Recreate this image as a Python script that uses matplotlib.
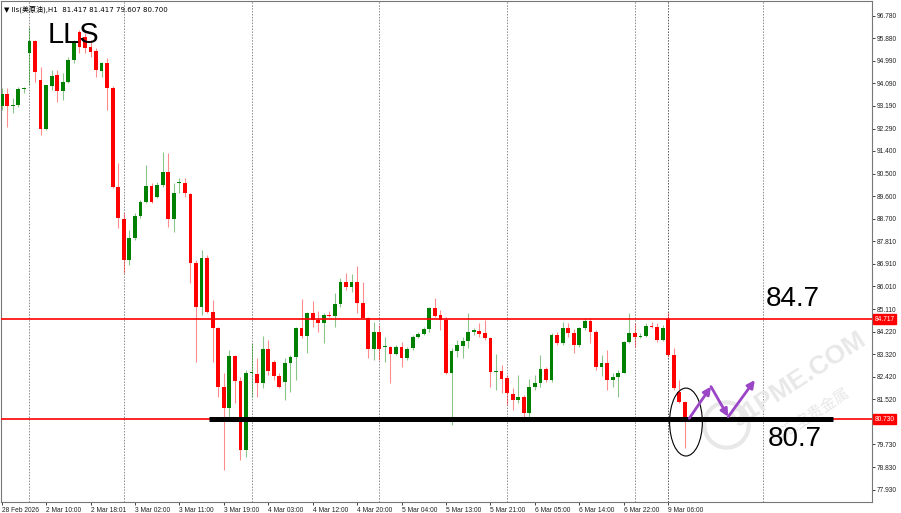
import matplotlib
matplotlib.use("Agg")
import matplotlib.pyplot as plt
from matplotlib.patches import Ellipse
import numpy as np

# hourly candles
opens = [93.20, 93.66, 93.19, 93.23, 93.86, 95.28, 95.78, 94.22, 92.27, 93.99,
         94.42, 93.78, 94.14, 95.01, 96.13, 95.94, 95.54, 95.37, 94.58, 94.90,
         93.90, 89.98, 88.69, 87.06, 87.95, 88.81, 89.37, 90.00, 89.57, 90.04,
         90.57, 88.69, 90.12, 90.14, 89.69, 86.94, 85.21, 87.15, 85.01, 84.36,
         82.01, 81.18, 83.25, 82.26, 79.51, 82.57, 82.53, 82.17, 83.52, 83.02,
         82.46, 82.22, 82.98, 83.22, 84.36, 84.04, 84.96, 84.68, 84.57, 84.86,
         84.84, 85.31, 86.20, 85.99, 86.20, 85.36, 84.76, 83.52, 84.21, 83.60,
         83.60, 83.32, 83.60, 83.17, 83.56, 83.99, 84.12, 84.32, 85.15, 84.88,
         84.68, 82.58, 83.46, 83.66, 83.85, 84.19, 84.25, 84.15, 83.95, 82.62,
         82.65, 82.36, 81.73, 81.50, 81.63, 80.99, 82.01, 82.18, 82.73, 82.29,
         84.08, 83.77, 84.35, 84.17, 83.68, 84.35, 84.65, 84.21, 82.81, 82.98,
         82.29, 82.41, 82.58, 83.81, 84.17, 83.99, 84.05, 84.44, 84.41, 83.88,
         84.72, 83.29, 81.83, 81.417]
highs = [93.90, 93.90, 93.50, 93.95, 93.95, 96.33, 95.81, 94.75, 94.02, 94.62,
         94.62, 94.50, 95.15, 95.81, 96.21, 96.09, 95.81, 95.49, 94.95, 95.09,
         93.98, 90.92, 88.93, 88.26, 88.93, 89.45, 90.84, 90.12, 90.18, 91.36,
         91.32, 90.12, 90.32, 90.32, 89.73, 87.06, 87.46, 87.26, 85.47, 84.41,
         82.57, 83.48, 83.29, 82.42, 82.69, 83.76, 83.17, 84.04, 83.88, 83.09,
         82.57, 83.17, 83.29, 84.41, 85.51, 85.01, 85.44, 85.05, 84.95, 85.03,
         85.75, 86.35, 86.55, 86.51, 86.82, 86.20, 84.81, 84.61, 84.48, 83.99,
         83.64, 83.68, 83.81, 83.60, 84.08, 84.21, 84.41, 85.21, 85.55, 85.07,
         84.80, 83.56, 83.88, 84.01, 84.97, 84.35, 84.56, 84.68, 84.01, 83.32,
         82.89, 82.49, 81.97, 82.49, 81.69, 82.33, 82.49, 83.29, 82.82, 84.15,
         84.21, 84.61, 84.55, 84.32, 84.41, 84.74, 84.76, 84.28, 83.29, 83.48,
         82.58, 82.69, 83.84, 84.95, 84.56, 84.15, 84.55, 84.61, 84.55, 84.48,
         85.01, 83.56, 82.29, 81.417]
lows = [93.03, 92.36, 92.91, 93.16, 93.71, 94.02, 94.15, 92.03, 92.23, 93.82,
        93.36, 93.42, 94.09, 94.88, 95.29, 95.28, 95.15, 94.35, 94.35, 93.03,
        89.93, 88.33, 86.55, 86.86, 87.86, 88.73, 89.33, 89.33, 89.52, 89.98,
        88.37, 88.18, 89.73, 89.58, 86.15, 83.02, 84.88, 84.95, 83.02, 81.63,
        78.71, 80.83, 81.38, 79.11, 79.24, 81.63, 81.63, 81.97, 82.49, 82.29,
        81.97, 81.50, 81.83, 82.29, 83.96, 83.36, 84.41, 84.21, 83.77, 84.80,
        84.41, 85.21, 85.87, 85.80, 84.95, 84.74, 83.17, 83.09, 83.09, 83.02,
        82.18, 83.29, 82.82, 83.09, 83.48, 83.95, 84.08, 84.21, 84.80, 84.28,
        82.53, 80.50, 83.22, 83.17, 83.56, 84.08, 84.01, 83.88, 82.02, 81.89,
        81.77, 81.30, 81.10, 81.38, 80.70, 80.83, 81.89, 82.02, 82.22, 82.22,
        83.68, 83.68, 84.01, 83.36, 83.61, 84.28, 83.76, 82.69, 82.45, 81.89,
        82.02, 81.63, 82.56, 83.76, 83.61, 83.95, 84.01, 84.35, 83.81, 83.85,
        83.22, 81.89, 81.38, 79.607]
closes = [93.66, 93.20, 93.21, 93.86, 93.87, 95.78, 94.55, 92.27, 94.02, 94.38,
          93.78, 94.14, 95.01, 95.74, 95.54, 95.49, 95.34, 94.62, 94.90, 93.90,
          89.98, 88.73, 87.06, 87.95, 88.81, 89.37, 90.00, 89.37, 90.04, 90.57,
          88.69, 89.73, 90.14, 89.73, 86.96, 85.21, 87.15, 85.01, 84.36, 82.01,
          81.18, 83.25, 82.26, 79.51, 82.57, 82.59, 82.18, 83.52, 82.65, 82.46,
          82.02, 82.97, 83.22, 84.37, 84.04, 84.96, 84.68, 84.57, 84.88, 84.84,
          85.31, 86.20, 85.99, 86.20, 85.36, 84.76, 83.52, 84.21, 83.52, 83.62,
          83.32, 83.60, 83.17, 83.52, 84.01, 84.12, 84.32, 85.15, 84.84, 84.68,
          82.58, 83.46, 83.68, 83.85, 84.19, 84.28, 84.12, 83.95, 82.62, 82.64,
          82.33, 81.76, 81.50, 81.63, 80.99, 82.01, 82.18, 82.73, 82.29, 84.08,
          83.77, 84.35, 84.15, 83.68, 84.35, 84.65, 84.21, 82.81, 82.98, 82.29,
          82.41, 82.58, 83.81, 84.17, 83.99, 84.05, 84.44, 84.39, 83.88, 84.35,
          83.29, 81.96, 81.43, 80.700]

time_labels = ["28 Feb 2026", "2 Mar 10:00", "2 Mar 18:01", "3 Mar 02:00",
               "3 Mar 11:00", "3 Mar 19:00", "4 Mar 03:00", "4 Mar 12:00",
               "4 Mar 20:00", "5 Mar 04:00", "5 Mar 13:00", "5 Mar 21:00",
               "6 Mar 05:00", "6 Mar 14:00", "6 Mar 22:00", "9 Mar 06:00"]
price_ticks = [96.780, 95.880, 94.990, 94.090, 93.190, 92.290, 91.400, 90.500,
               89.600, 88.700, 87.810, 86.910, 86.010, 85.110, 84.220, 83.320,
               82.420, 81.520, 79.730, 78.830, 77.930]
day_breaks = [5, 22, 45, 68, 91, 114, 137]

resistance = 84.717
support = 80.730

GREEN = "#008000"
RED = "#ff0000"

fig = plt.figure(figsize=(9.01, 5.13), dpi=100)
ax = fig.add_axes([0.001, 0.0214, 0.9667, 0.9766])

idx = np.arange(len(opens))
o = np.array(opens)
c = np.array(closes)
colors = [GREEN if cc >= oo else RED for oo, cc in zip(o, c)]

# period separators
for d in day_breaks:
    ax.axvline(d, color="#8a8a8a", lw=0.7, ls=(0, (1.5, 1.5)), zorder=1)
ax.axvline(120, color="#555555", lw=0.7, ls=(0, (1.5, 1.5)), zorder=1)

# candles
ax.vlines(idx, lows, highs, colors=colors, lw=0.8, alpha=0.45, zorder=2)
bottoms = np.minimum(o, c)
heights = np.maximum(np.abs(c - o), 0.04)
ax.bar(idx, heights, bottom=bottoms, width=0.68, color=colors, lw=0, zorder=3)

# levels
ax.axhline(resistance, color=RED, lw=1.2, zorder=4)
ax.axhline(support, color=RED, lw=1.2, zorder=4)
ax.plot([37.3, 149.6], [support, support], color="black", lw=3.6,
        solid_capstyle="butt", zorder=5)

# watermark
ax.text(143.5, 82.3, "91PME.COM", rotation=33, fontsize=19, fontweight="bold",
        color="#e8e8e8", ha="center", va="center", zorder=1,
        family=["Liberation Sans", "DejaVu Sans"])
ax.text(145.5, 80.85, "鑫汇宝贵金属", rotation=33, fontsize=11,
        color="#e8e8e8", ha="center", va="center", zorder=1,
        family=["Noto Sans CJK SC", "DejaVu Sans"])
ax.add_patch(Ellipse((130.5, 80.5), 8.0, 1.8, fill=False, ec="#e8e8e8",
                     lw=3, zorder=1))

# annotations
ax.add_patch(Ellipse((123.2, 80.62), 5.9, 2.70, fill=False, ec="black",
                     lw=0.8, zorder=6))
purple = "#9b45c7"
path = [(123.8, 80.77), (127.7, 82.03), (130.8, 80.83), (135.6, 82.29)]
for p0, p1 in zip(path[:-1], path[1:]):
    ax.annotate("", xy=p1, xytext=p0, zorder=7,
                arrowprops=dict(arrowstyle="-|>", color=purple, lw=2,
                                mutation_scale=11, shrinkA=0, shrinkB=0))

ax.text(8.2, 96.0, "LLS", fontsize=21, color="black", va="center",
        family="Liberation Sans", zorder=8)
ax.text(137.5, 85.5, "84.7", fontsize=20, color="black", va="center",
        family="Liberation Sans", zorder=8)
ax.text(138.0, 79.95, "80.7", fontsize=20, color="black", va="center",
        family="Liberation Sans", zorder=8)

ax.text(0.004, 0.992, "▼ lls(美原油),H1  81.417 81.417 79.607 80.700",
        transform=ax.transAxes, fontsize=5, va="top", ha="left",
        family=["DejaVu Sans", "Noto Sans CJK SC"], zorder=8)

# axes
ax.set_xlim(-0.13, 156.67)
ax.set_ylim(77.44, 97.36)
ax.yaxis.tick_right()
ax.set_yticks(price_ticks)
ax.set_yticklabels([f"{v:.3f}" for v in price_ticks])
ax.tick_params(axis="y", labelsize=4.8, length=2, width=0.6, pad=1.5,
               colors="#222222")
ax.set_xticks(np.arange(0, 8 * len(time_labels), 8))
ax.set_xticklabels(time_labels, ha="left")
ax.tick_params(axis="x", labelsize=4.8, length=2, width=0.6, pad=1.5,
               colors="#222222")
for lbl in ax.get_xticklabels() + ax.get_yticklabels():
    lbl.set_family("Liberation Sans")
for sp in ax.spines.values():
    sp.set_color("#777777")
    sp.set_linewidth(0.8)

# price boxes on the axis
for lvl in (resistance, support):
    ax.text(1.003, lvl, f"{lvl:.3f}", transform=ax.get_yaxis_transform(),
            fontsize=4.8, color="white", va="center", ha="left",
            family="Liberation Sans",
            bbox=dict(boxstyle="square,pad=0.25", fc=RED, ec=RED),
            clip_on=False, zorder=9)

fig.savefig("out.png", dpi=100)
